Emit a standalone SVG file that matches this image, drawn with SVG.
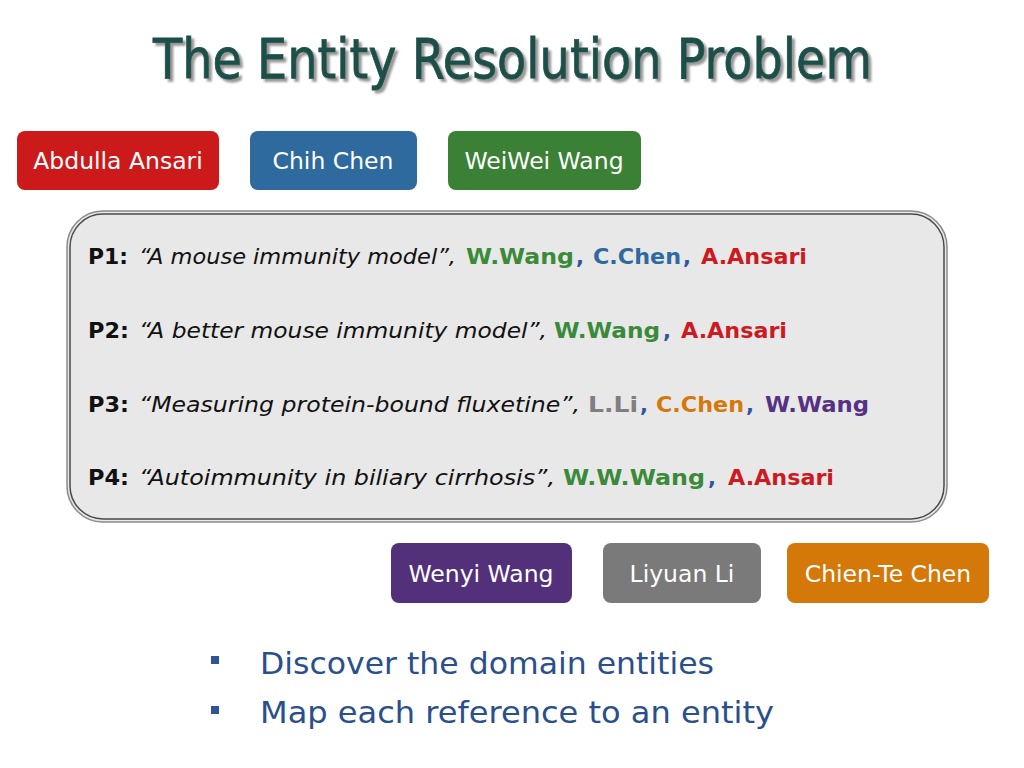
<svg xmlns="http://www.w3.org/2000/svg" width="1024" height="768" viewBox="0 0 1024 768">
<style>
.f{font-family:"DejaVu Sans","Liberation Sans",sans-serif}
.lbl{font-family:"DejaVu Sans","Liberation Sans",sans-serif;font-size:23.5px;fill:#ffffff;text-anchor:middle}
.p{font-family:"DejaVu Sans","Liberation Sans",sans-serif;font-size:21px}
.b{font-weight:bold}
.i{font-style:italic;fill:#111}
.k{fill:#111}
.cm{fill:#2f55a0;font-weight:bold}
.g{fill:#3a8a3a}
.bl{fill:#2e6a9e}
.r{fill:#cc1a22}
.gy{fill:#7f7f7f}
.o{fill:#d4780a}
.pu{fill:#553184}
.bul{font-family:"DejaVu Sans","Liberation Sans",sans-serif;font-size:30px;fill:#2b4f8a}
</style>
<defs>
<filter id="sh" x="-5%" y="-20%" width="110%" height="150%">
<feDropShadow dx="3" dy="3" stdDeviation="0.8" flood-color="#8c8c8c" flood-opacity="0.9"/>
</filter>
</defs>
<rect width="1024" height="768" fill="#ffffff"/>
<g id="title">
<text class="f" x="153" y="78" font-size="56" fill="#1c5048" stroke="#1c5048" stroke-width="0.8" textLength="719" lengthAdjust="spacingAndGlyphs" filter="url(#sh)">The Entity Resolution Problem</text>
</g>
<g id="node-abdulla">
<rect x="17" y="131" width="202" height="59" rx="8" fill="#cc1a1a"/>
<text class="lbl" x="118" y="169">Abdulla Ansari</text>
</g>
<g id="node-chih">
<rect x="250" y="131" width="167" height="59" rx="8" fill="#2e6a9e"/>
<text class="lbl" x="333" y="169">Chih Chen</text>
</g>
<g id="node-weiwei">
<rect x="448" y="131" width="193" height="59" rx="8" fill="#3a8035"/>
<text class="lbl" x="544" y="169">WeiWei Wang</text>
</g>
<g id="papers">
<rect x="67" y="211" width="880" height="311" rx="36" fill="#e8e8e8" stroke="#8a8a8a" stroke-width="1.5"/>
<rect x="70" y="214" width="874" height="305" rx="33" fill="none" stroke="#4a4a4a" stroke-width="1.5"/>
<!-- P1 -->
<text class="p b k" x="88" y="264" textLength="40" lengthAdjust="spacingAndGlyphs">P1:</text>
<text class="p i" x="139" y="264" textLength="317" lengthAdjust="spacingAndGlyphs">“A mouse immunity model”,</text>
<text class="p b g" x="466" y="264" textLength="108" lengthAdjust="spacingAndGlyphs">W.Wang</text>
<text class="p cm" x="576" y="264">,</text>
<text class="p b bl" x="593" y="264" textLength="88" lengthAdjust="spacingAndGlyphs">C.Chen</text>
<text class="p cm" x="683" y="264">,</text>
<text class="p b r" x="701" y="264" textLength="106" lengthAdjust="spacingAndGlyphs">A.Ansari</text>
<!-- P2 -->
<text class="p b k" x="88" y="338" textLength="41" lengthAdjust="spacingAndGlyphs">P2:</text>
<text class="p i" x="139" y="338" textLength="408" lengthAdjust="spacingAndGlyphs">“A better mouse immunity model”,</text>
<text class="p b g" x="554" y="338" textLength="106" lengthAdjust="spacingAndGlyphs">W.Wang</text>
<text class="p cm" x="663" y="338">,</text>
<text class="p b r" x="681" y="338" textLength="106" lengthAdjust="spacingAndGlyphs">A.Ansari</text>
<!-- P3 -->
<text class="p b k" x="88" y="412" textLength="41" lengthAdjust="spacingAndGlyphs">P3:</text>
<text class="p i" x="139" y="412" textLength="441" lengthAdjust="spacingAndGlyphs">“Measuring protein-bound fluxetine”,</text>
<text class="p b gy" x="588" y="412" textLength="50" lengthAdjust="spacingAndGlyphs">L.Li</text>
<text class="p cm" x="640" y="412">,</text>
<text class="p b o" x="656" y="412" textLength="88" lengthAdjust="spacingAndGlyphs">C.Chen</text>
<text class="p cm" x="746" y="412">,</text>
<text class="p b pu" x="765" y="412" textLength="104" lengthAdjust="spacingAndGlyphs">W.Wang</text>
<!-- P4 -->
<text class="p b k" x="88" y="485" textLength="41" lengthAdjust="spacingAndGlyphs">P4:</text>
<text class="p i" x="139" y="485" textLength="416" lengthAdjust="spacingAndGlyphs">“Autoimmunity in biliary cirrhosis”,</text>
<text class="p b g" x="563" y="485" textLength="142" lengthAdjust="spacingAndGlyphs">W.W.Wang</text>
<text class="p cm" x="708" y="485">,</text>
<text class="p b r" x="728" y="485" textLength="106" lengthAdjust="spacingAndGlyphs">A.Ansari</text>
</g>
<g id="node-wenyi">
<rect x="391" y="543" width="181" height="60" rx="8" fill="#52307a"/>
<text class="lbl" x="481" y="582">Wenyi Wang</text>
</g>
<g id="node-liyuan">
<rect x="603" y="543" width="158" height="60" rx="8" fill="#7a7a7a"/>
<text class="lbl" x="682" y="582">Liyuan Li</text>
</g>
<g id="node-chiente">
<rect x="787" y="543" width="202" height="60" rx="8" fill="#d4780a"/>
<text class="lbl" x="888" y="582">Chien-Te Chen</text>
</g>
<g id="connectors"></g>
<g id="bullets">
<rect x="211" y="656" width="8" height="8" fill="#2f5597"/>
<text class="bul" x="260" y="674" textLength="454" lengthAdjust="spacingAndGlyphs">Discover the domain entities</text>
<rect x="211" y="706" width="8" height="8" fill="#2f5597"/>
<text class="bul" x="260" y="723" textLength="514" lengthAdjust="spacingAndGlyphs">Map each reference to an entity</text>
</g>
</svg>
